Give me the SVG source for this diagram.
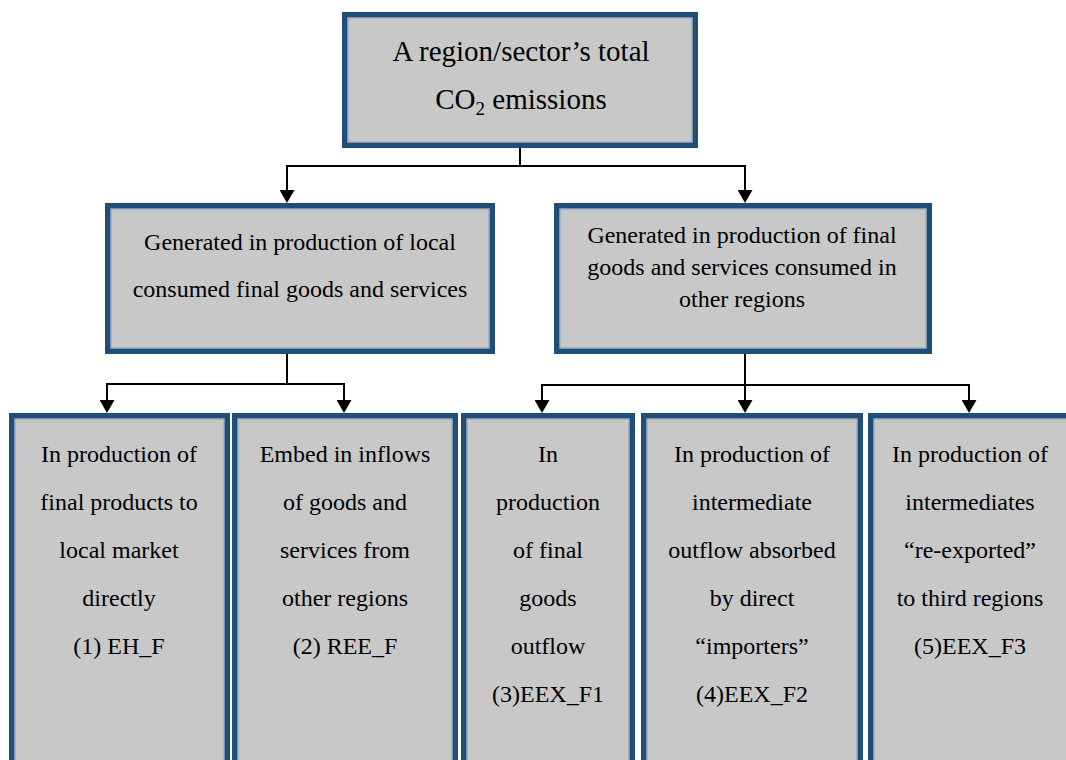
<svg xmlns="http://www.w3.org/2000/svg" width="1066" height="760" viewBox="0 0 1066 760" font-family="'Liberation Serif', serif">
<style>
.box{fill:#c8c8c8;stroke:#1f4e79;stroke-width:5.5}
.inner{fill:none;stroke:#8aa0b8;stroke-width:1}
text{font-family:'Liberation Serif','Times New Roman',serif;fill:#000;text-anchor:middle}
.t1{font-size:29px}
.t2{font-size:24px}
.conn path{fill:none;stroke:#000;stroke-width:2}
</style>
<defs>
<marker id="arr" markerUnits="userSpaceOnUse" viewBox="0 0 13 15" refX="7" refY="7.5" markerWidth="13" markerHeight="15" orient="auto">
<path d="M0,0 L13,7.5 L0,15 z" fill="#000"/>
</marker>
</defs>
<rect width="1066" height="760" fill="#fff"/>

<g id="top">
<rect class="box" x="344.75" y="14.75" width="350.5" height="130.5"/>
<rect class="inner" x="348" y="18" width="344" height="124"/>
<text class="t1" x="521" y="61">A region/sector’s total</text>
<text class="t1" x="521" y="109">CO<tspan font-size="19" dy="6">2</tspan><tspan dy="-6"> emissions</tspan></text>
</g>

<g id="local">
<rect class="box" x="107.75" y="205.75" width="384.5" height="145.5"/>
<rect class="inner" x="111" y="209" width="378" height="139"/>
<text class="t2" x="300" y="250">Generated in production of local</text>
<text class="t2" x="300" y="297">consumed final goods and services</text>
</g>

<g id="other">
<rect class="box" x="556.75" y="205.75" width="372.5" height="145.5"/>
<rect class="inner" x="560" y="209" width="366" height="139"/>
<text class="t2" x="742" y="243">Generated in production of final</text>
<text class="t2" x="742" y="275">goods and services consumed in</text>
<text class="t2" x="742" y="307">other regions</text>
</g>

<g id="b1">
<rect class="box" x="11.75" y="415.75" width="215.5" height="360"/>
<rect class="inner" x="15" y="419" width="209" height="360"/>
<text class="t2" x="119" y="462">In production of</text>
<text class="t2" x="119" y="510">final products to</text>
<text class="t2" x="119" y="558">local market</text>
<text class="t2" x="119" y="606">directly</text>
<text class="t2" x="119" y="654">(1) EH_F</text>
</g>

<g id="b2">
<rect class="box" x="234.75" y="415.75" width="220.5" height="360"/>
<rect class="inner" x="238" y="419" width="214" height="360"/>
<text class="t2" x="345" y="462">Embed in inflows</text>
<text class="t2" x="345" y="510">of goods and</text>
<text class="t2" x="345" y="558">services from</text>
<text class="t2" x="345" y="606">other regions</text>
<text class="t2" x="345" y="654">(2) REE_F</text>
</g>

<g id="b3">
<rect class="box" x="463.75" y="415.75" width="168.5" height="360"/>
<rect class="inner" x="467" y="419" width="162" height="360"/>
<text class="t2" x="548" y="462">In</text>
<text class="t2" x="548" y="510">production</text>
<text class="t2" x="548" y="558">of final</text>
<text class="t2" x="548" y="606">goods</text>
<text class="t2" x="548" y="654">outflow</text>
<text class="t2" x="548" y="702">(3)EEX_F1</text>
</g>

<g id="b4">
<rect class="box" x="643.75" y="415.75" width="216.5" height="360"/>
<rect class="inner" x="647" y="419" width="210" height="360"/>
<text class="t2" x="752" y="462">In production of</text>
<text class="t2" x="752" y="510">intermediate</text>
<text class="t2" x="752" y="558">outflow absorbed</text>
<text class="t2" x="752" y="606">by direct</text>
<text class="t2" x="752" y="654">“importers”</text>
<text class="t2" x="752" y="702">(4)EEX_F2</text>
</g>

<g id="b5">
<rect class="box" x="870.75" y="415.75" width="210" height="360"/>
<rect class="inner" x="874" y="419" width="210" height="360"/>
<text class="t2" x="970" y="462">In production of</text>
<text class="t2" x="970" y="510">intermediates</text>
<text class="t2" x="970" y="558">“re-exported”</text>
<text class="t2" x="970" y="606">to third regions</text>
<text class="t2" x="970" y="654">(5)EEX_F3</text>
</g>

<g id="connectors" class="conn">
<path d="M520,148 V166"/>
<path d="M286,166 H746"/>
<path d="M287,166 V197" marker-end="url(#arr)"/>
<path d="M745,166 V197" marker-end="url(#arr)"/>
<path d="M287,354 V384"/>
<path d="M106,384 H345"/>
<path d="M107,384 V407" marker-end="url(#arr)"/>
<path d="M344,384 V407" marker-end="url(#arr)"/>
<path d="M745,354 V385"/>
<path d="M541,385 H970"/>
<path d="M542,385 V407" marker-end="url(#arr)"/>
<path d="M745,385 V407" marker-end="url(#arr)"/>
<path d="M969,385 V407" marker-end="url(#arr)"/>
</g>
</svg>
